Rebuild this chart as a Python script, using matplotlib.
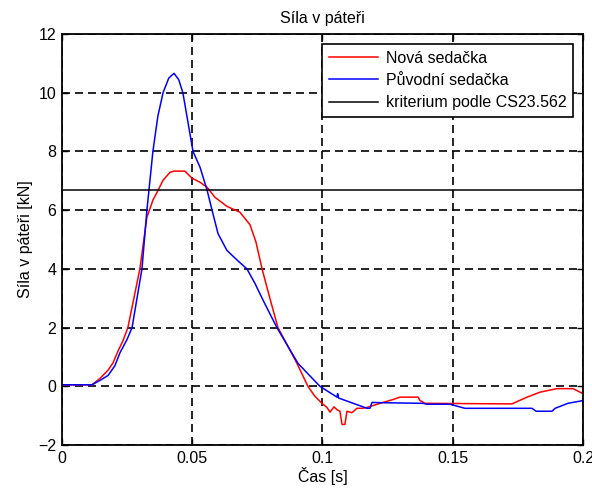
import numpy as np
import matplotlib.pyplot as plt

plt.rcParams['font.family'] = ['Liberation Sans', 'DejaVu Sans']

# Nová sedačka (red)
t_nova = [0, 0.0115, 0.0146, 0.0177, 0.0196, 0.0215, 0.0234, 0.0253, 0.0299,
          0.0326, 0.0349, 0.0365, 0.0388, 0.0415, 0.0430, 0.0472, 0.0499, 0.0530,
          0.0557, 0.0587, 0.0633, 0.0683, 0.0722, 0.0745, 0.0768, 0.0798, 0.0829,
          0.0902, 0.0944, 0.0970, 0.0998, 0.1017, 0.1029, 0.1044, 0.1056, 0.1067,
          0.1075, 0.1086, 0.1094, 0.1113, 0.1132, 0.1152, 0.1171, 0.1232, 0.1271,
          0.1297, 0.1367, 0.1374, 0.1393, 0.1727, 0.1785, 0.1835, 0.1900, 0.1962,
          0.2]
f_nova = [0.05, 0.05, 0.27, 0.55, 0.8, 1.2, 1.55, 2.0, 4.0,
          5.76, 6.34, 6.61, 7.02, 7.29, 7.33, 7.33, 7.09, 6.95,
          6.78, 6.44, 6.13, 5.93, 5.5, 4.9, 4.0, 3.0, 2.0,
          0.78, 0.0, -0.33, -0.58, -0.72, -0.88, -0.7, -0.8, -0.85,
          -1.3, -1.3, -0.85, -0.9, -0.75, -0.75, -0.72, -0.55, -0.45,
          -0.37, -0.37, -0.48, -0.58, -0.6, -0.37, -0.2, -0.08, -0.08,
          -0.25]

# Původní sedačka (blue)
t_puvodni = [0, 0.0115, 0.0146, 0.0177, 0.0203, 0.0223, 0.0250, 0.0269, 0.0307,
             0.0326, 0.0349, 0.0368, 0.0388, 0.0410, 0.0430, 0.0448, 0.0464,
             0.0503, 0.0530, 0.0557, 0.0576, 0.0599, 0.0633, 0.0672, 0.0710,
             0.0741, 0.0772, 0.0825, 0.0906, 0.0990, 0.1056, 0.1058, 0.1062,
             0.1171, 0.1182, 0.1190, 0.1232, 0.1386, 0.1400, 0.1489, 0.1547,
             0.1804, 0.1820, 0.1881, 0.1893, 0.1942, 0.1992, 0.2]
f_puvodni = [0.05, 0.05, 0.2, 0.37, 0.7, 1.15, 1.6, 2.0, 4.0,
             6.0, 8.0, 9.2, 10.0, 10.5, 10.66, 10.45, 10.0,
             8.0, 7.46, 6.68, 6.0, 5.2, 4.63, 4.3, 4.0,
             3.5, 2.93, 2.0, 0.78, 0.0, -0.37, -0.25, -0.4,
             -0.75, -0.75, -0.55, -0.56, -0.58, -0.61, -0.61, -0.75,
             -0.75, -0.85, -0.85, -0.75, -0.58, -0.5, -0.48]

kriterium = 6.67

fig = plt.figure(figsize=(5.92, 4.88), dpi=100)
ax = fig.add_axes([0.1047, 0.0881, 0.8801, 0.8422])

ax.plot(t_nova, f_nova, color='#ff0000', lw=1.1, label='Nová sedačka')
ax.plot(t_puvodni, f_puvodni, color='#0000ff', lw=1.1, label='Původní sedačka')
ax.axhline(kriterium, color='black', lw=1.1, label='kriterium podle CS23.562')

ax.set_xlim(0, 0.2)
ax.set_ylim(-2, 12)
ax.set_xticks([0, 0.05, 0.1, 0.15, 0.2])
ax.set_xticklabels(['0', '0.05', '0.1', '0.15', '0.2'])
ax.set_yticks(range(-2, 13, 2))

ax.grid(True, color='black', lw=1.2, linestyle=(0, (4.8, 3)))
ax.tick_params(direction='in', length=4, width=1, top=True, right=True,
               labelsize=11.5, pad=4)
for s in ax.spines.values():
    s.set_linewidth(1.3)

ax.set_title('Síla v páteři', fontsize=11.5, pad=8)
ax.set_xlabel('Čas [s]', fontsize=11.5, labelpad=1)
ax.set_ylabel('Síla v páteři [kN]', fontsize=11.5, labelpad=4)

leg = ax.legend(loc='upper right', fontsize=11.5, handlelength=3.1,
                handletextpad=0.45, fancybox=False, framealpha=1,
                edgecolor='black', borderaxespad=0.6, labelspacing=0.45,
                borderpad=0.45)
leg.get_frame().set_linewidth(1.2)

fig.savefig('out.png', dpi=100)
